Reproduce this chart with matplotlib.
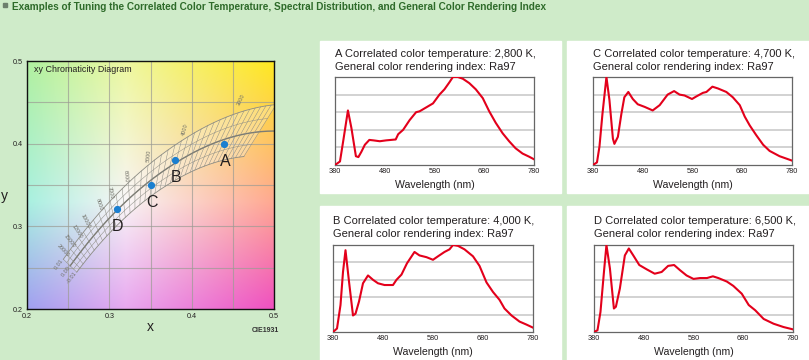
import numpy as np
import matplotlib.pyplot as plt
from matplotlib import font_manager
from matplotlib.colors import to_rgb

plt.rcParams['font.family'] = ['Liberation Sans', 'DejaVu Sans']

BG = '#cfebc9'
RED = '#e3001b'

# spectra (relative intensity)
wl_a = [380, 390, 397, 406, 413, 422, 427, 433, 440, 449, 457, 470, 483, 502, 507, 517, 530, 543, 550, 562,
        577, 590, 600, 610, 617, 627, 637, 650, 663, 677, 690, 703, 717, 730, 743, 757, 770, 780]
sp_a = [0.0, 0.04, 0.29, 0.62, 0.42, 0.10, 0.09, 0.15, 0.23, 0.285, 0.28, 0.27, 0.28, 0.29, 0.35, 0.40, 0.51,
        0.60, 0.61, 0.65, 0.70, 0.80, 0.86, 0.94, 1.0, 1.0, 0.98, 0.93, 0.86, 0.76, 0.61, 0.48, 0.36, 0.27,
        0.19, 0.13, 0.095, 0.065]

wl_b = [380, 388, 395, 400, 405, 412, 420, 425, 432, 440, 450, 460, 470, 483, 500, 507, 517, 528, 543, 553,
        567, 580, 590, 603, 613, 620, 630, 643, 660, 673, 687, 700, 713, 723, 737, 753, 767, 780]
sp_b = [0.0, 0.04, 0.31, 0.69, 0.94, 0.58, 0.19, 0.21, 0.35, 0.56, 0.65, 0.60, 0.56, 0.54, 0.54, 0.60, 0.66,
        0.79, 0.92, 0.88, 0.86, 0.83, 0.87, 0.92, 0.95, 1.0, 0.99, 0.95, 0.87, 0.76, 0.57, 0.46, 0.37, 0.27,
        0.19, 0.12, 0.085, 0.05]

wl_c = [380, 388, 393, 399, 407, 413, 420, 423, 430, 437, 443, 451, 460, 470, 484, 500, 514, 530, 543, 554,
        564, 579, 588, 601, 608, 620, 631, 648, 661, 675, 685, 695, 708, 722, 735, 755, 780]
sp_c = [0.0, 0.03, 0.21, 0.58, 1.0, 0.74, 0.30, 0.24, 0.32, 0.58, 0.77, 0.83, 0.75, 0.69, 0.66, 0.62, 0.68,
        0.80, 0.84, 0.80, 0.79, 0.75, 0.78, 0.82, 0.83, 0.89, 0.87, 0.83, 0.77, 0.68, 0.55, 0.45, 0.34, 0.23,
        0.16, 0.10, 0.05]

wl_d = [380, 387, 393, 400, 405, 412, 420, 424, 432, 442, 450, 459, 471, 486, 502, 516, 529, 541, 553, 566,
        580, 593, 607, 619, 630, 647, 660, 677, 691, 704, 721, 741, 761, 780]
sp_d = [0.0, 0.02, 0.23, 0.69, 1.0, 0.73, 0.27, 0.29, 0.50, 0.88, 0.96, 0.88, 0.77, 0.72, 0.67, 0.69, 0.76,
        0.77, 0.71, 0.65, 0.61, 0.62, 0.62, 0.64, 0.62, 0.58, 0.53, 0.44, 0.31, 0.25, 0.15, 0.095, 0.057, 0.03]

titles = ['A Correlated color temperature: 2,800 K,',
          'B Correlated color temperature: 4,000 K,',
          'C Correlated color temperature: 4,700 K,',
          'D Correlated color temperature: 6,500 K,']
subtitle = 'General color rendering index: Ra97'
wl_ticks = [380, 480, 580, 680, 780]

# chromaticity points
pt_names = ['A', 'B', 'C', 'D']
pt_x = [0.439, 0.380, 0.350, 0.309]
pt_y = [0.400, 0.380, 0.350, 0.321]

iso_labels = [3000, 4000, 5000, 6000, 7000, 8000, 10000, 12000, 15000, 20000]
duv_lines = [-0.01, -0.005, 0.0, 0.005, 0.01]
duv_labels = [0.01, 0.0, -0.01]

# background colour field of the xy diagram
bg_x = [0.2, 0.32, 0.5]
bg_y = [0.2, 0.33, 0.5]
bg_colors = [['#a0a0f0', '#e8a8f0', '#f050c0'],
             ['#a8f0e0', '#f8f4f6', '#ffa890'],
             ['#b0f0a0', '#eef8a0', '#ffe820']]


def planck_xy(T):
    T = np.asarray(T, float)
    t = 1.0 / T
    x = np.where(T <= 4000,
                 -0.2661239e9 * t**3 - 0.2343589e6 * t**2 + 0.8776956e3 * t + 0.179910,
                 -3.0258469e9 * t**3 + 2.1070379e6 * t**2 + 0.2226347e3 * t + 0.240390)
    y = np.where(T <= 2222, -1.1063814 * x**3 - 1.34811020 * x**2 + 2.18555832 * x - 0.20219683,
                 np.where(T <= 4000, -0.9549476 * x**3 - 1.37418593 * x**2 + 2.09137015 * x - 0.16748867,
                          3.0817580 * x**3 - 5.87338670 * x**2 + 3.75112997 * x - 0.37001483))
    return x, y


def xy_to_uv(x, y):
    d = -2 * x + 12 * y + 3
    return 4 * x / d, 6 * y / d


def uv_to_xy(u, v):
    d = 2 * u - 8 * v + 4
    return 3 * u / d, 2 * v / d


def offset_xy(T, duv):
    T = np.asarray(T, float)
    u, v = xy_to_uv(*planck_xy(T))
    u2, v2 = xy_to_uv(*planck_xy(T * 1.002))
    du, dv = u2 - u, v2 - v
    n = np.hypot(du, dv)
    return uv_to_xy(u + duv * dv / n, v - duv * du / n)


fig = plt.figure(figsize=(8.09, 3.6), dpi=100)
fig.patch.set_facecolor(BG)
W, H = 809, 360

# header
fig.patches.append(plt.Rectangle((2.7 / W, 1 - 7.3 / H), 4.4 / W, 4.4 / H, transform=fig.transFigure,
                                 color='#6d7f6d'))
fig.text(12.5 / W, 1 - 7.5 / H,
         'Examples of Tuning the Correlated Color Temperature, Spectral Distribution, and General Color Rendering Index',
         fontsize=7.2, fontweight='bold', color='#2e6b2a', va='center', ha='left')

# white panels
for (px, py, pw, ph) in [(320, 41, 241, 152), (567, 41, 242, 152), (320, 206, 241, 154), (567, 206, 242, 154)]:
    fig.patches.append(plt.Rectangle((px / W, 1 - (py + ph) / H), pw / W, ph / H,
                                     transform=fig.transFigure, color='white', zorder=-1))

# ---------- chromaticity diagram ----------
ax = fig.add_axes([27 / W, 1 - 309 / H, 247 / W, 248 / H])
gx = np.linspace(0.2, 0.5, 300)
gy = np.linspace(0.2, 0.5, 300)
rows = np.array([[to_rgb(c) for c in row] for row in bg_colors])
img = np.zeros((300, 300, 3))
for k in range(3):
    tmp = np.array([np.interp(gx, bg_x, rows[j, :, k]) for j in range(3)])
    for i in range(300):
        img[:, i, k] = np.interp(gy, bg_y, tmp[:, i])
ax.imshow(img, extent=[0.2, 0.5, 0.2, 0.5], origin='lower', interpolation='bilinear', zorder=0, aspect='auto')
ax.set_xlim(0.2, 0.5)
ax.set_ylim(0.2, 0.5)
for g in np.arange(0.25, 0.5, 0.05):
    ax.axvline(g, color='#9c9c94', lw=0.8, alpha=0.7, zorder=1)
    ax.axhline(g, color='#9c9c94', lw=0.8, alpha=0.7, zorder=1)

# Planckian locus grid
T_band = 1e6 / np.linspace(410, 40, 300)
band_x1, band_y1 = offset_xy(T_band, duv_lines[-1])
band_x0, band_y0 = offset_xy(T_band, duv_lines[0])
ax.fill(np.r_[band_x1, band_x0[::-1]], np.r_[band_y1, band_y0[::-1]], color='white', alpha=0.25, lw=0, zorder=1.5)
for d in duv_lines:
    xs, ys = offset_xy(T_band, d)
    ax.plot(xs, ys, color='#8c8c84', lw=0.6 if abs(d) == 0.01 else 0.35, zorder=2)
T_loc = 1e6 / np.linspace(470, 40, 400)
xs, ys = planck_xy(T_loc)
ax.plot(xs, ys, color='#7c7c74', lw=1.0, zorder=2)
for m in np.arange(40, 411, 10):
    xs, ys = offset_xy(np.full(2, 1e6 / m), np.array([duv_lines[0], duv_lines[-1]]))
    ax.plot(xs, ys, color='#8c8c84', lw=0.35, zorder=2)

fig.canvas.draw()
for T in iso_labels:
    x0, y0 = offset_xy(T, duv_lines[0])
    x1, y1 = offset_xy(T, duv_lines[-1] + 0.005)
    p0 = ax.transData.transform((x0, y0))
    p1 = ax.transData.transform((x1, y1))
    ang = np.degrees(np.arctan2(p1[1] - p0[1], p1[0] - p0[0]))
    if ang > 90:
        ang -= 180
    elif ang < -90:
        ang += 180
    ax.text(x1, y1, str(T), fontsize=4, color='#707068', rotation=ang, ha='center', va='center', zorder=3)
for d in duv_labels:
    xa, ya = offset_xy(1e6 / 40, d)
    xb, yb = offset_xy(1e6 / 60, d)
    p0 = ax.transData.transform((xa, ya))
    p1 = ax.transData.transform((xb, yb))
    ang = np.degrees(np.arctan2(p1[1] - p0[1], p1[0] - p0[0]))
    ax.text(xa, ya, '%.2f ' % d, fontsize=4, color='#707068', rotation=ang, rotation_mode='anchor',
            ha='right', va='center', zorder=3)

ax.plot(pt_x, pt_y, 'o', color='#1b7fd0', markersize=4.2, zorder=4)
for name, x, y in zip(pt_names, pt_x, pt_y):
    ax.annotate(name, (x, y), xytext=(0.8, -12.5), textcoords='offset points', ha='center', va='center',
                fontsize=11.5, color='#231f20', zorder=5)

ax.text(0.028, 0.964, 'xy Chromaticity Diagram', transform=ax.transAxes, fontsize=6.4, color='#231f20',
        ha='left', va='center')
ax.set_xticks([0.2, 0.3, 0.4, 0.5])
ax.set_yticks([0.2, 0.3, 0.4, 0.5])
ax.set_xticklabels(['0.2', '0.3', '0.4', '0.5'])
ax.set_yticklabels(['0.2', '0.3', '0.4', '0.5'])
ax.tick_params(length=0, labelsize=5.2, pad=3, labelcolor='#231f20')
for s in ax.spines.values():
    s.set_color('#111111')
    s.set_linewidth(1.0)
fig.text(150 / W, 1 - 327 / H, 'x', fontsize=10, color='#231f20', ha='center', va='center')
fig.text(4 / W, 1 - 196 / H, 'y', fontsize=10, color='#231f20', ha='center', va='center')
fig.text(265 / W, 1 - 331 / H, 'CIE1931', fontsize=5, fontweight='bold', color='#333333',
         ha='center', va='center')

# ---------- spectra ----------
spectra = [(wl_a, sp_a), (wl_b, sp_b), (wl_c, sp_c), (wl_d, sp_d)]
boxes = [(335, 77, 199, 88), (333, 245, 200, 87), (593, 77, 199, 88), (594, 245, 199, 87)]
title_y = [54, 221, 54, 221]
for (wl, sp), (bx, by, bw, bh), t, ty in zip(spectra, boxes, titles, title_y):
    a = fig.add_axes([bx / W, 1 - (by + bh) / H, bw / W, bh / H])
    a.set_facecolor('white')
    for g in [0.2, 0.4, 0.6, 0.8]:
        a.axhline(g, color='#cfcfcf', lw=1.3, zorder=1)
    a.plot(wl, sp, color=RED, lw=1.5, zorder=3, solid_joinstyle='round')
    a.set_xlim(380, 780)
    a.set_ylim(0, 1.0)
    a.set_yticks([])
    a.set_xticks(wl_ticks)
    a.tick_params(length=0, labelsize=5.3, pad=2.5, labelcolor='#231f20')
    a.set_xlabel('Wavelength (nm)', fontsize=7.6, color='#231f20', labelpad=3)
    for s in a.spines.values():
        s.set_color('#666666')
        s.set_linewidth(0.9)
    fig.text(bx / W, 1 - ty / H, t, fontsize=8.0, color='#231f20', ha='left', va='center')
    fig.text(bx / W, 1 - (ty + 13) / H, subtitle, fontsize=8.0, color='#231f20', ha='left', va='center')

fig.savefig('out.png', dpi=100, facecolor=BG)
